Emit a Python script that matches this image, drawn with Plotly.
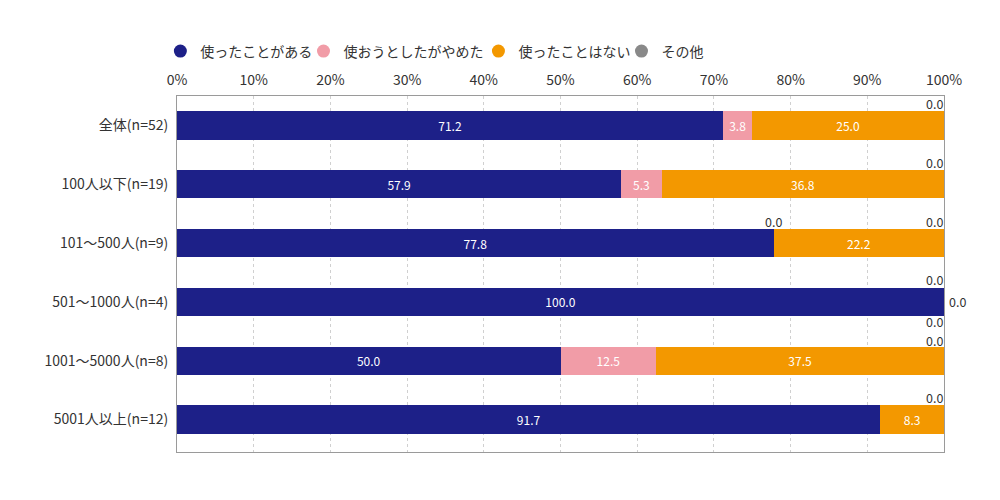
import plotly.graph_objects as go

categories = ["全体(n=52)", "100人以下(n=19)", "101～500人(n=9)", "501～1000人(n=4)",
              "1001～5000人(n=8)", "5001人以上(n=12)"]
series_names = ["使ったことがある", "使おうとしたがやめた", "使ったことはない", "その他"]
used = [71.2, 57.9, 77.8, 100.0, 50.0, 91.7]
tried_quit = [3.8, 5.3, 0.0, 0.0, 12.5, 0.0]
never_used = [25.0, 36.8, 22.2, 0.0, 37.5, 8.3]
other = [0.0, 0.0, 0.0, 0.0, 0.0, 0.0]
x_ticks = [0, 10, 20, 30, 40, 50, 60, 70, 80, 90, 100]

colors = ["#1d2088", "#f19ca7", "#f39800", "#898989"]
FONT = "Noto Sans CJK JP"

# one legend box per entry so the spacing can follow the original
legend_ids = ["legend", "legend2", "legend3", "legend4"]
legend_x = [-0.0217, 0.1649, 0.393, 0.5795]

fig = go.Figure()
all_series = [used, tried_quit, never_used, other]
for name, vals, col, lid in zip(series_names, all_series, colors, legend_ids):
    fig.add_trace(go.Bar(
        y=categories, x=vals, orientation="h", name=name,
        marker=dict(color=col, line=dict(width=0)),
        text=[f"{v:.1f}" if v > 0 else "" for v in vals],
        textposition="inside", insidetextanchor="middle",
        textfont=dict(color="white", size=12, family=FONT),
        constraintext="none", showlegend=False, hoverinfo="skip",
    ))
    # legend entry with round marker
    fig.add_trace(go.Scatter(
        x=[None], y=[None], mode="markers", name=name, legend=lid,
        marker=dict(color=col, size=13, symbol="circle"),
    ))

# zero-value labels, placed the way the original chart shows them
zero_labels = [
    # (row, x, xanchor, yshift, xshift)
    (0, 100, "right", 22, 0),
    (1, 100, "right", 22, 0),
    (2, 77.8, "center", 22, 0),
    (2, 100, "right", 22, 0),
    (3, 100, "right", 22, 0),
    (3, 100, "left", 0, 4),
    (3, 100, "right", -20, 0),
    (4, 100, "right", 20, 0),
    (5, 100, "right", 22, 0),
]
for row, xv, anchor, ys, xs in zero_labels:
    fig.add_annotation(
        x=xv, y=categories[row], text="0.0", showarrow=False,
        xanchor=anchor, yanchor="middle", yshift=ys, xshift=xs, borderpad=0,
        font=dict(size=12.5, color="#333333", family=FONT),
    )

legend_style = dict(orientation="h", xanchor="left", y=1.125, yanchor="middle",
                    font=dict(size=14, family=FONT, color="#333333"),
                    bgcolor="rgba(0,0,0,0)")
fig.update_layout(**{lid: dict(x=lx, **legend_style) for lid, lx in zip(legend_ids, legend_x)})

fig.update_layout(
    width=1000, height=500,
    barmode="stack", bargap=0.52,
    plot_bgcolor="white", paper_bgcolor="white",
    margin=dict(l=169, r=64, t=88, b=56, autoexpand=False),
    font=dict(family=FONT, size=14, color="#333333"),
    xaxis=dict(range=[0, 100], side="top", tickvals=x_ticks,
               ticktext=[f"{t}%" for t in x_ticks],
               showgrid=True, gridcolor="#d0d0d0", griddash="dot", gridwidth=1,
               showline=True, linecolor="#9a9a9a", mirror=True, zeroline=False,
               ticks="", ticklabelstandoff=4, tickfont=dict(size=14)),
    yaxis=dict(autorange="reversed", showline=True, linecolor="#9a9a9a", mirror=True,
               ticks="", ticklabelstandoff=5, tickfont=dict(size=14)),
)

fig.write_html("out.html")
